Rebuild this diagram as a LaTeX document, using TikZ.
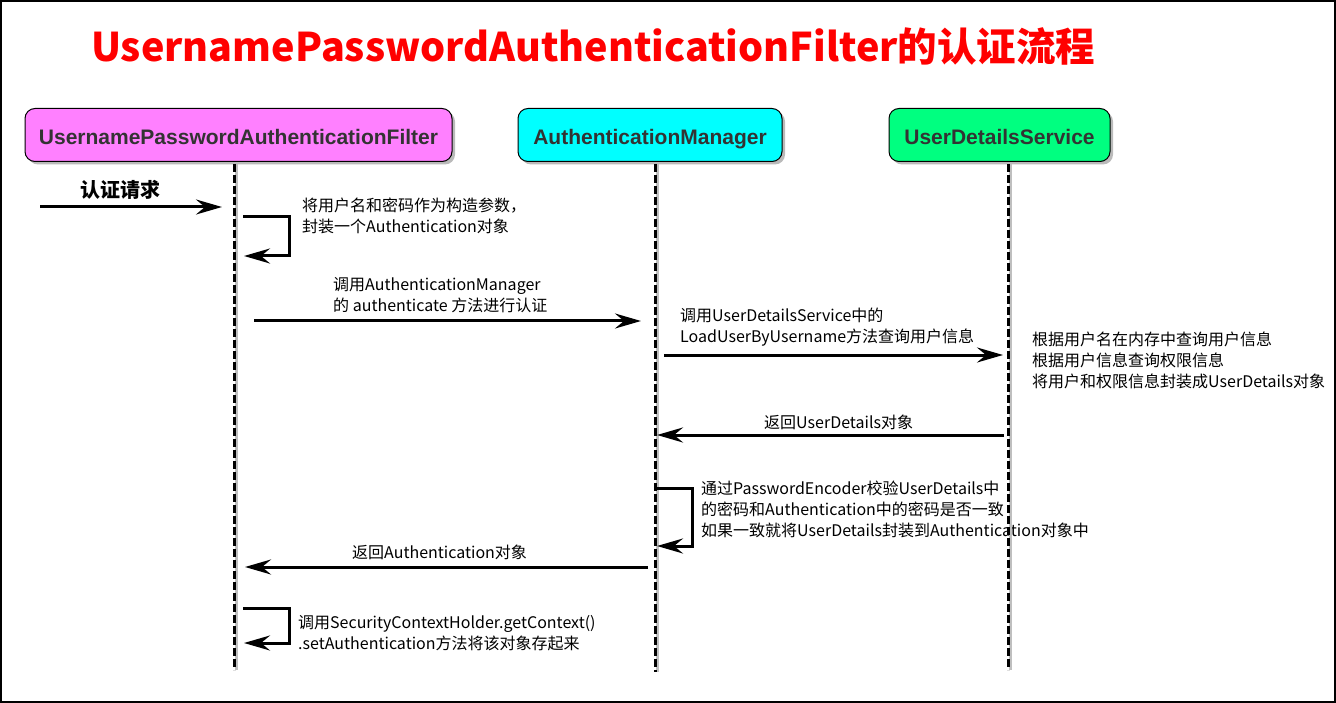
\documentclass[tikz,border=0pt]{standalone}
\usepackage{fontspec}
\setmainfont{Noto Sans CJK SC}
\newfontfamily\hdfont{Liberation Sans}
\usetikzlibrary{arrows.meta,shadows}
\definecolor{pinkbox}{HTML}{FF80FF}
\definecolor{cyanbox}{HTML}{00FFFF}
\definecolor{greenbox}{HTML}{00FF80}
\definecolor{hdtext}{HTML}{333333}
\tikzset{
  hbox/.style={draw=black, line width=1pt, rounded corners=10pt, minimum height=53pt,
    inner sep=0pt, text=hdtext, font=\hdfont\bfseries\fontsize{21}{21}\selectfont,
    text height=19pt, text depth=0pt,
    drop shadow={shadow xshift=3pt, shadow yshift=-3pt, opacity=0.45, fill=black!60}},
  lbl/.style={anchor=west, inner sep=0pt, align=left, font=\fontsize{16}{21}\selectfont},
  arr/.style={line width=3pt, line join=miter, -{Stealth[length=26pt,width=15pt,inset=9pt]}},
  life/.style={line width=3pt, dash pattern=on 8pt off 3pt},
  lifeshadow/.style={line width=3pt, draw=black!25},
}
\begin{document}
\begin{tikzpicture}[x=1pt,y=-1pt]
\useasboundingbox (0,0) rectangle (1336,703);
\fill[white] (0,0) rectangle (1336,703);
\draw[line width=2pt] (1,1) rectangle (1335,702);

\node[anchor=west, inner sep=0pt, text=red, font=\bfseries\fontsize{39.5}{40}\selectfont] (title) at (91,46) {UsernamePasswordAuthenticationFilter的认证流程};

\node[hbox, fill=pinkbox, minimum width=427pt] (h1) at (238.5,135) {UsernamePasswordAuthenticationFilter};
\node[hbox, fill=cyanbox, minimum width=264pt] (h2) at (650,135) {AuthenticationManager};
\node[hbox, fill=greenbox, minimum width=221pt] (h3) at (999.5,135) {UserDetailsService};

% labels
\node[anchor=center, inner sep=0pt, font=\bfseries\fontsize{20}{20}\selectfont] (t0) at (120,190) {认证请求};
\node[lbl] (t1) at (302,216) {将用户名和密码作为构造参数，\\封装一个Authentication对象};
\node[lbl] (t2) at (333,295.5) {调用AuthenticationManager\\的 authenticate 方法进行认证};
\node[lbl] (t3) at (680,327.5) {调用UserDetailsService中的\\LoadUserByUsername方法查询用户信息};
\node[lbl] (t4) at (1032,360) {根据用户名在内存中查询用户信息\\根据用户信息查询权限信息\\将用户和权限信息封装成UserDetails对象};
\node[lbl] (t5) at (764,422) {返回UserDetails对象};
\node[lbl] (t6) at (701,509.5) {通过PasswordEncoder校验UserDetails中\\的密码和Authentication中的密码是否一致\\如果一致就将UserDetails封装到Authentication对象中};
\node[lbl] (t7) at (352,552) {返回Authentication对象};
\node[lbl] (t8) at (298,633) {调用SecurityContextHolder.getContext()\\.setAuthentication方法将该对象存起来};

% lifelines
\coordinate (l1t) at (234,164); \coordinate (l1b) at (234,670);
\coordinate (l2t) at (655,164); \coordinate (l2b) at (655,672);
\coordinate (l3t) at (1008,164); \coordinate (l3b) at (1008,670);
\foreach \a/\b in {l1t/l1b,l2t/l2b,l3t/l3b}{
  \draw[lifeshadow] ([xshift=2.5pt]\a) -- ([xshift=2.5pt]\b);
  \draw[life] (\a) -- (\b);
}

% messages
\coordinate (m0a) at (40,207);  \coordinate (m0b) at (222,207);
\draw[arr] (m0a) -- (m0b);

\coordinate (s1a) at (243,217); \coordinate (s1b) at (244,256);
\draw[arr] (s1a) -- ++(46,0) |- (s1b);

\coordinate (m2a) at (254,321); \coordinate (m2b) at (641,321);
\draw[arr] (m2a) -- (m2b);

\coordinate (m3a) at (664,355); \coordinate (m3b) at (1003,355);
\draw[arr] (m3a) -- (m3b);

\coordinate (m4a) at (1004,435); \coordinate (m4b) at (657,435);
\draw[arr] (m4a) -- (m4b);

\coordinate (s2a) at (655,488); \coordinate (s2b) at (657,546);
\draw[arr] (s2a) -- ++(37,0) |- (s2b);

\coordinate (m5a) at (648,567); \coordinate (m5b) at (245,567);
\draw[arr] (m5a) -- (m5b);

\coordinate (s3a) at (243,608); \coordinate (s3b) at (244,643);
\draw[arr] (s3a) -- ++(46,0) |- (s3b);
\end{tikzpicture}
\end{document}
